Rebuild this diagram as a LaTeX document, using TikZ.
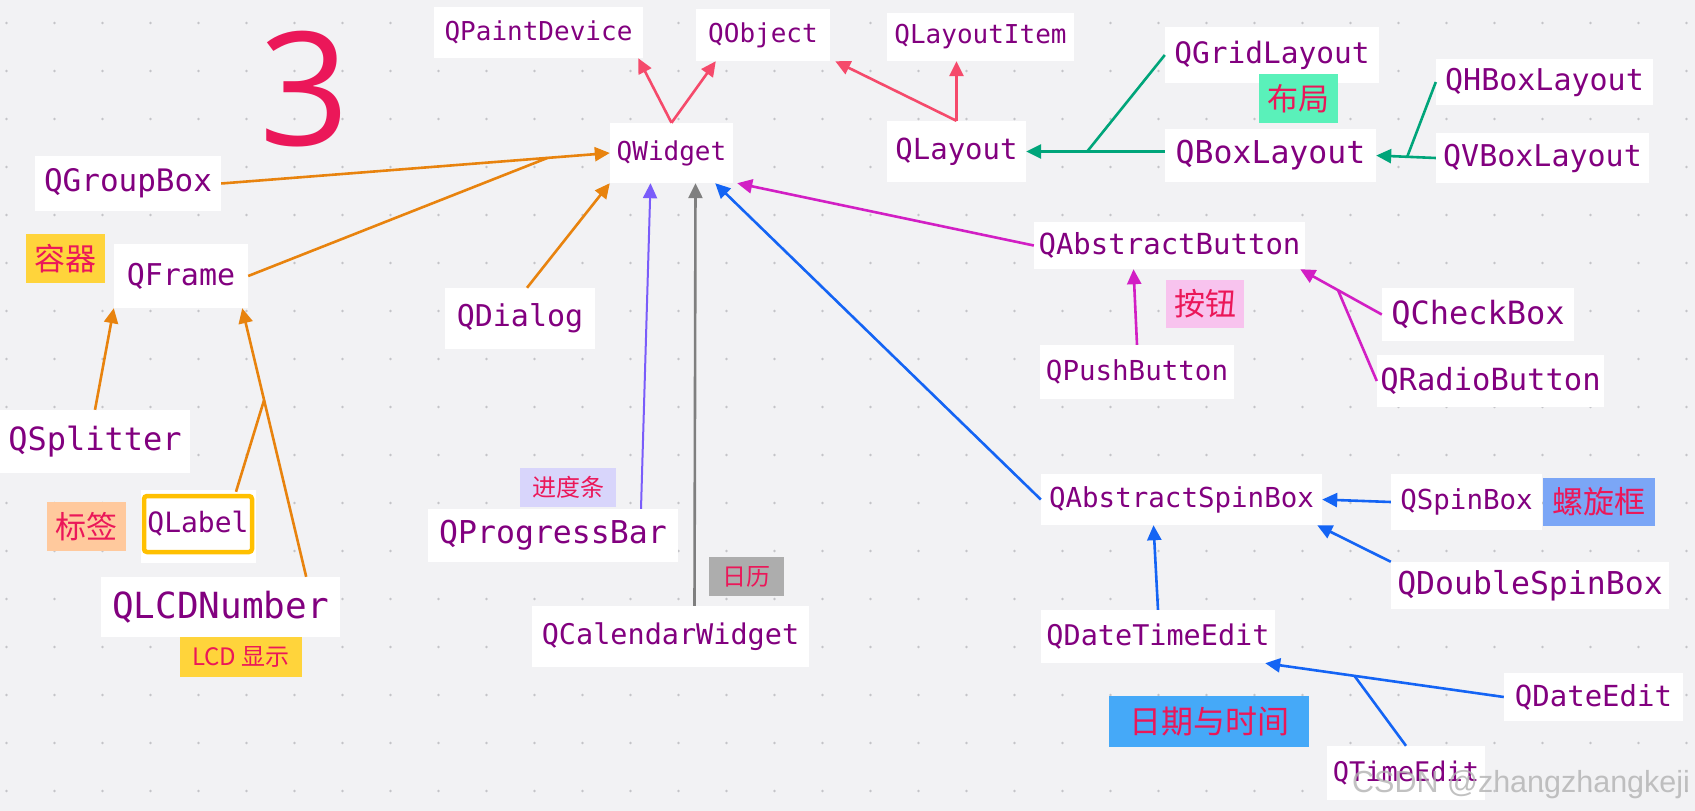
\documentclass[tikz,border=0pt]{standalone}
\usepackage{fontspec}
\newfontfamily\codefont{DejaVu Sans Mono}
\newfontfamily\cjk{Noto Sans CJK SC}
\newfontfamily\numfont{Open Sans}
\newfontfamily\markfont{Liberation Sans}
\usetikzlibrary{arrows.meta, calc}

\begin{document}
\begin{tikzpicture}[
    x=1pt, y=-1pt,
    cls/.style={fill=white, text=qpurple, inner sep=0pt,
        font=\codefont\fontsize{#1}{#1}\selectfont},
    tag/.style={fill=#1, text=tagred, inner sep=0pt,
        font=\cjk\fontsize{31}{31}\selectfont},
    smalltag/.style={tag=#1, font=\cjk\fontsize{24}{24}\selectfont},
    inh/.style={draw=#1, line width=2.6pt, -{Triangle[length=15pt, width=14pt]}},
    link/.style={draw=#1, line width=2.6pt},
]

\definecolor{paper}{HTML}{F2F2F4}
\definecolor{dotgray}{HTML}{C4C4C8}
\definecolor{qpurple}{HTML}{82007F}
\definecolor{tagred}{HTML}{EB1759}
\definecolor{cred}{HTML}{F54A6B}
\definecolor{corange}{HTML}{E8830E}
\definecolor{cviolet}{HTML}{7A5CFA}
\definecolor{cgray}{HTML}{7F7F7F}
\definecolor{cblue}{HTML}{1464F4}
\definecolor{cmagenta}{HTML}{D21FC4}
\definecolor{cgreen}{HTML}{00A57A}
\definecolor{labelborder}{HTML}{FFC000}
% tag fills
\definecolor{tyellow}{HTML}{FFD43B}
\definecolor{tpeach}{HTML}{FFC99D}
\definecolor{tmint}{HTML}{5AF1BA}
\definecolor{tpink}{HTML}{F8C3EE}
\definecolor{tlavender}{HTML}{D8D5FB}
\definecolor{tgray}{HTML}{ADADAD}
\definecolor{tcorn}{HTML}{7BA6F6}
\definecolor{tsky}{HTML}{45A9F8}

% ================================================================
%   1 unit = 1px of the 1695 x 811 board, y runs downwards
%   dots every 48px, first one at (6.5, 23)
% ================================================================

% ---------------------------------------------------------------- board
\fill[paper] (0,0) rectangle (1695,811);
\foreach \i in {0,...,35} {
    \foreach \j in {0,...,16} {
        \fill[dotgray] (6.5+48*\i, 23+48*\j) circle (1.3);
    }
}

\node[font=\numfont\fontsize{158}{158}\selectfont, text=tagred, inner sep=0pt,
    anchor=base] (three) at (304.5,145) {3};

% ---------------------------------------------------------------- top row
\node[cls=26, minimum width=209, minimum height=51] (paintdev) at (538.5,32.5) {QPaintDevice};
\node[cls=26, minimum width=134, minimum height=52] (object) at (763,35) {QObject};
\node[cls=26, minimum width=187, minimum height=48] (layoutitem) at (980.5,37) {QLayoutItem};
\node[cls=26, minimum width=123, minimum height=60] (widget) at (671.5,153) {QWidget};

% ---------------------------------------------------------------- containers
\node[cls=31, minimum width=186, minimum height=55] (groupbox) at (128,183.5) {QGroupBox};
\node[cls=30, minimum width=134, minimum height=64] (frame) at (181,276) {QFrame};
\node[cls=30, minimum width=150, minimum height=61] (dialog) at (520,318.5) {QDialog};
\node[cls=32, minimum width=190, minimum height=63] (splitter) at (95,441.5) {QSplitter};
\fill[white] (141,490) rectangle (256,563);
\node[cls=28, draw=labelborder, line width=4.5pt, rounded corners=3pt,
    minimum width=108, minimum height=56] (label) at (198,524) {QLabel};
\node[cls=36, minimum width=239, minimum height=60] (lcd) at (220.5,607) {QLCDNumber};

\node[tag=tyellow, minimum width=79, minimum height=49] (tcontainer) at (65.5,258.5) {容器};
\node[tag=tpeach, minimum width=79, minimum height=49] (tlabel) at (86.5,526.5) {标签};
\node[smalltag=tyellow, minimum width=122, minimum height=40] (tlcd) at (241,657) {LCD 显示};

% ---------------------------------------------------------------- widgets
\node[cls=31.5, minimum width=250, minimum height=53] (progress) at (553,535.5) {QProgressBar};
\node[cls=28.5, minimum width=277, minimum height=61] (calendar) at (670.5,636.5) {QCalendarWidget};
\node[smalltag=tlavender, minimum width=96, minimum height=39] (tprogress) at (568,487.5) {进度条};
\node[smalltag=tgray, minimum width=75, minimum height=39] (tcalendar) at (746.5,576.5) {日历};

% ---------------------------------------------------------------- layouts
\node[cls=29, minimum width=139, minimum height=61] (layout) at (956.5,151.5) {QLayout};
\node[cls=29.5, minimum width=214, minimum height=56] (gridlayout) at (1272,55) {QGridLayout};
\node[cls=31.5, minimum width=211, minimum height=53] (boxlayout) at (1270.5,155.5) {QBoxLayout};
\node[cls=30, minimum width=217, minimum height=46] (hboxlayout) at (1544.5,82) {QHBoxLayout};
\node[cls=30, minimum width=213, minimum height=50] (vboxlayout) at (1542.5,158) {QVBoxLayout};
\node[tag=tmint, minimum width=79, minimum height=49] (tlayout) at (1298.5,98.5) {布局};

% ---------------------------------------------------------------- buttons
\node[cls=29, minimum width=271, minimum height=47] (absbutton) at (1169.5,245.5) {QAbstractButton};
\node[cls=27.5, minimum width=194, minimum height=54] (pushbutton) at (1137,372) {QPushButton};
\node[cls=32, minimum width=192, minimum height=53] (checkbox) at (1478,314.5) {QCheckBox};
\node[cls=30.5, minimum width=227, minimum height=52] (radiobutton) at (1490.5,381) {QRadioButton};
\node[tag=tpink, minimum width=78, minimum height=48] (tbutton) at (1205,304) {按钮};

% ---------------------------------------------------------------- spin boxes
\node[cls=27.5, minimum width=281, minimum height=51] (absspin) at (1181.5,499.5) {QAbstractSpinBox};
\node[cls=27.5, minimum width=151, minimum height=56] (spinbox) at (1466.5,502) {QSpinBox};
\node[cls=31.5, minimum width=278, minimum height=47] (doublespin) at (1530,585.5) {QDoubleSpinBox};
\node[cls=28.5, minimum width=234, minimum height=53] (datetime) at (1158,636.5) {QDateTimeEdit};
\node[cls=29, minimum width=179, minimum height=48] (dateedit) at (1593.5,697) {QDateEdit};
\node[cls=27, minimum width=158, minimum height=54] (timeedit) at (1406,773) {QTimeEdit};
\node[tag=tcorn, minimum width=112, minimum height=48] (tspin) at (1599,502) {螺旋框};
\node[tag=tsky, minimum width=200, minimum height=51,
    font=\cjk\fontsize{32}{32}\selectfont] (tdatetime) at (1209,721.5) {日期与时间};

% ---------------------------------------------------------------- arrows
% QWidget and QLayout up to the base classes
\draw[inh=cred] (widget.north) -- ($(paintdev.south east)+(-5,0)$);
\draw[inh=cred] (widget.north) -- ($(object.south west)+(20,0)$);
\draw[inh=cred] (layout.north) -- ($(object.south east)+(5,0)$);
\draw[inh=cred] (layout.north) -- (layout.north |- layoutitem.south);

% containers, the QFrame line joins the QGroupBox one
\coordinate (jgroup) at ($(groupbox.east)!0.84!(widget.west)$);
\draw[inh=corange] (groupbox.east) -- (widget.west);
\draw[link=corange] (frame.east) -- (jgroup);
\draw[inh=corange] ($(dialog.north)+(7,0)$) -- (widget.south west);
\draw[inh=corange] (splitter.north) -- (frame.south west);
\coordinate (lcdtop) at ($(lcd.north east)+(-34,0)$);
\coordinate (frametip) at ($(frame.south east)+(-6,0)$);
\coordinate (jframe) at ($(lcdtop)!0.658!(frametip)$);
\draw[inh=corange] (lcdtop) -- (frametip);
\draw[link=corange] ($(label.north)+(38,-2)$) -- (jframe);

\draw[inh=cviolet, line width=2pt] ($(progress.north)+(88,0)$) -- ($(widget.south)+(-21,0)$);
\draw[inh=cgray] ($(calendar.north)+(24,0)$) -- ($(widget.south)+(24,0)$);
\draw[inh=cblue] (absspin.west) -- ($(widget.south east)+(-18,0)$);
\draw[inh=cmagenta] (absbutton.west) -- ($(widget.south east)+(4,0)$);

% layouts
\coordinate (jlayout) at ($(layout.east)!0.44!(boxlayout.west |- layout.east)$);
\draw[inh=cgreen] (boxlayout.west |- layout.east) -- (layout.east);
\draw[link=cgreen] (gridlayout.west) -- (jlayout);
\coordinate (jbox) at ($(vboxlayout.west)!0.48!(boxlayout.east)$);
\draw[inh=cgreen] (vboxlayout.west) -- (boxlayout.east);
\draw[link=cgreen] (hboxlayout.west) -- (jbox);

% buttons
\draw[inh=cmagenta] (pushbutton.north) -- ($(absbutton.south)+(-36,0)$);
\coordinate (buttontip) at ($(absbutton.south east)+(-5,0)$);
\coordinate (jbutton) at ($(checkbox.west)!0.537!(buttontip)$);
\draw[inh=cmagenta] (checkbox.west) -- (buttontip);
\draw[link=cmagenta] (radiobutton.west) -- (jbutton);

% spin boxes
\draw[inh=cblue] (spinbox.west) -- (absspin.east);
\draw[inh=cblue] (doublespin.north west) -- ($(absspin.south east)+(-5,0)$);
\draw[inh=cblue] (datetime.north) -- ($(absspin.south)+(-28,0)$);
\coordinate (datetip) at ($(datetime.south east)+(-10,0)$);
\coordinate (jdate) at ($(dateedit.west)!0.626!(datetip)$);
\draw[inh=cblue] (dateedit.west) -- (datetip);
\draw[link=cblue] (timeedit.north) -- (jdate);

\node[font=\markfont\fontsize{30.5}{30.5}\selectfont, text=black!30, opacity=0.8,
    inner sep=0pt, anchor=base west] (watermark) at (1352,792) {CSDN @zhangzhangkeji};

\end{tikzpicture}
\end{document}
